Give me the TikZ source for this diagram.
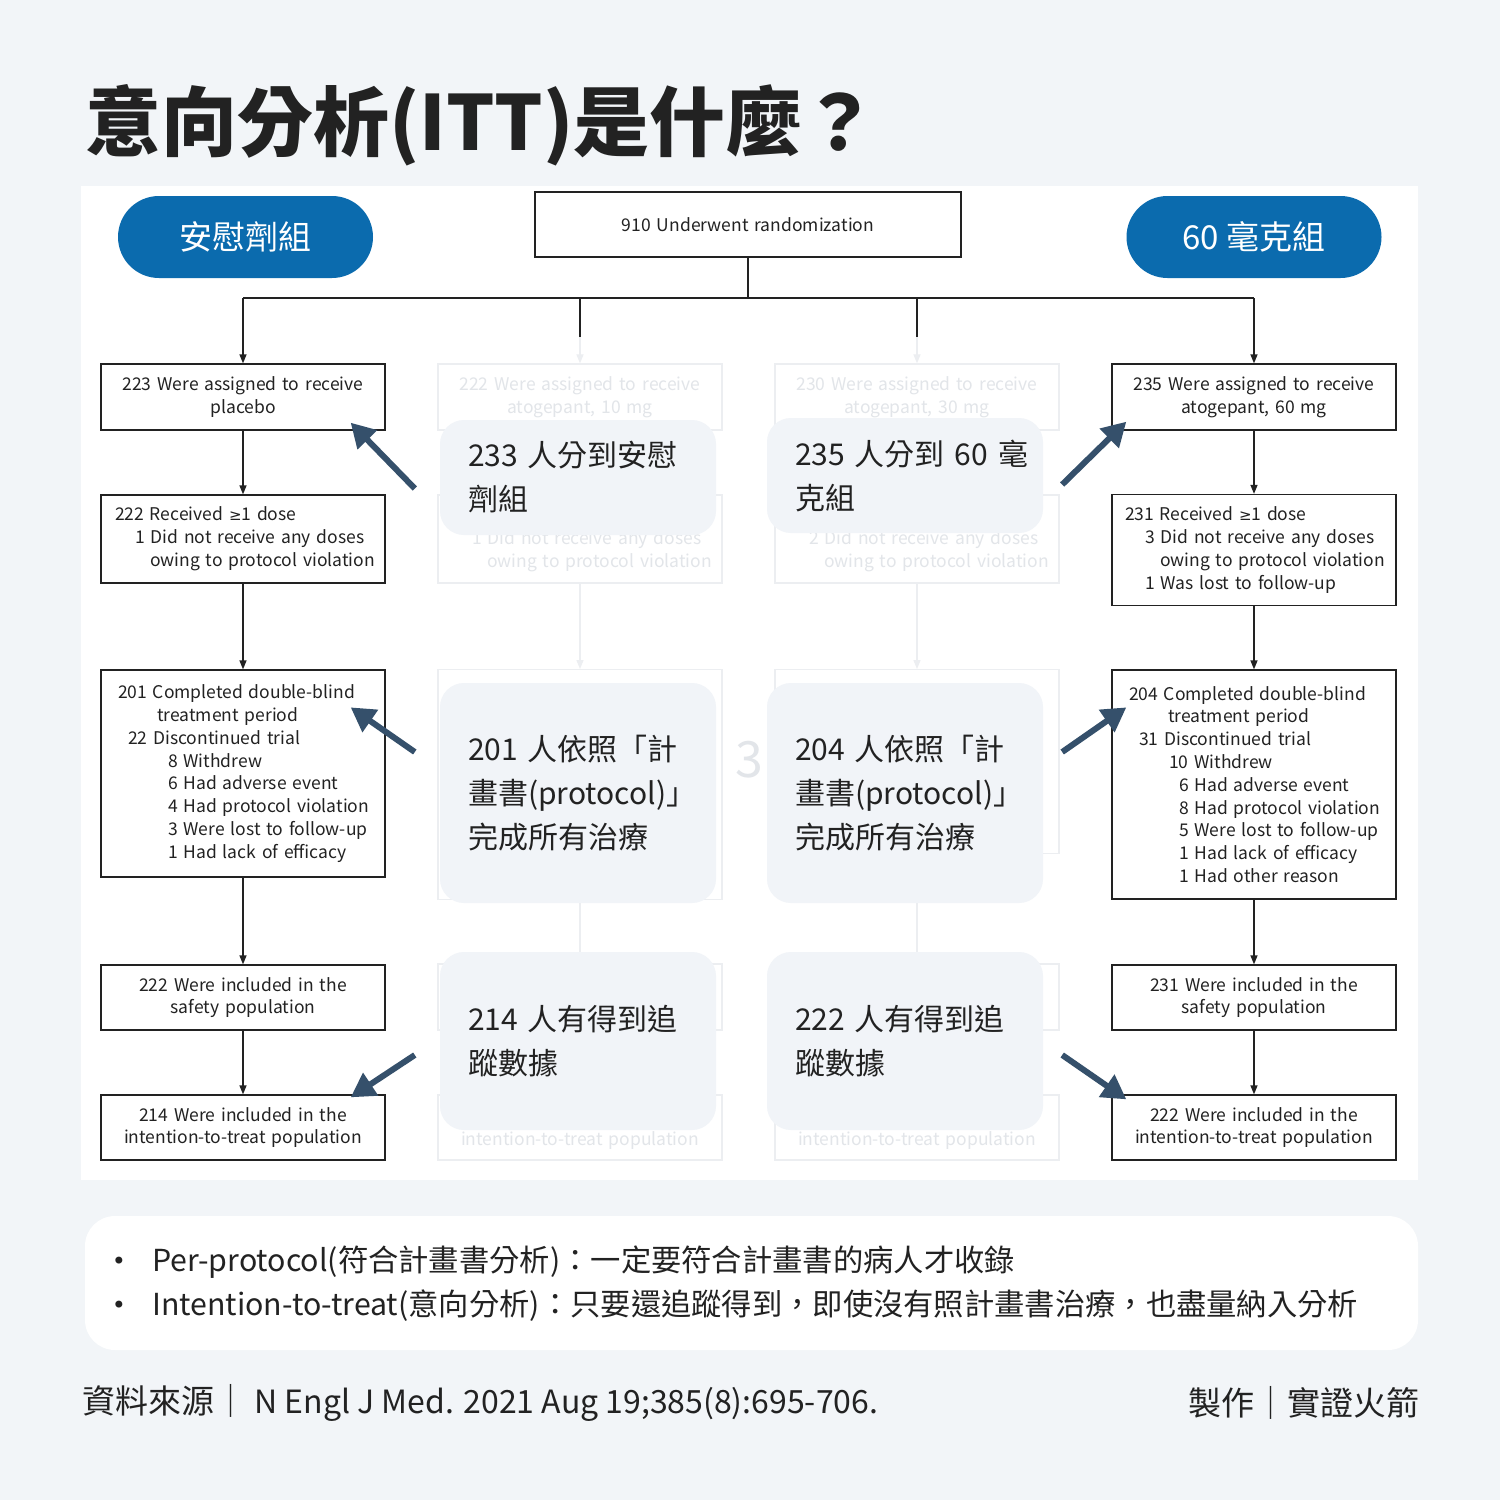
\documentclass[tikz,border=0pt]{standalone}
\usepackage{fontspec}
\setmainfont{Noto Sans CJK TC}
\newfontfamily\symfont{DejaVu Sans}
\usetikzlibrary{arrows.meta,positioning}

\definecolor{pagebg}{HTML}{F2F5F8}
\definecolor{pillblue}{HTML}{0B6BAE}
\definecolor{arrowcol}{HTML}{35506B}
\definecolor{callfill}{HTML}{F1F4F8}
\definecolor{ink}{HTML}{222222}
\definecolor{fadeline}{HTML}{ECEEF1}
\definecolor{fadeink}{HTML}{E2E5E9}

\newcommand\boxfont{\fontsize{17.5}{22.8}\selectfont}
\newcommand\callfont{\fontsize{30}{44}\selectfont}
\newcommand\atleast{{\symfont\fontsize{15}{15}\selectfont ≥}}

\tikzset{
  flowbox/.style={draw=ink, line width=1.3pt, fill=white, text=ink,
    inner xsep=2pt, inner ysep=0pt, text width=280pt, font=\boxfont},
  fadebox/.style={flowbox, draw=fadeline, text=fadeink},
  flow/.style={draw=ink, line width=1.3pt},
  flowarrow/.style={flow, -{Triangle[length=9pt,width=7pt]}},
  fadearrow/.style={flowarrow, draw=fadeline},
  pill/.style={fill=pillblue, text=white, rounded corners=41pt,
    minimum width=255pt, minimum height=82pt, font=\fontsize{33}{33}\selectfont},
  callbox/.style={fill=callfill, rounded corners=24pt, minimum width=276pt,
    inner xsep=28pt, text width=220pt, align=left, text=ink, font=\callfont},
  bigarrow/.style={draw=arrowcol, line width=6pt, -{Triangle[length=24pt,width=26pt]}},
  notetext/.style={inner sep=0pt, text=ink, font=\fontsize{30.3}{30.3}\selectfont}
}

\begin{document}
\begin{tikzpicture}[x=1pt,y=-1pt]
\useasboundingbox (0,0) rectangle (1500,1500);
\fill[pagebg] (0,0) rectangle (1500,1500);
\fill[white] (81,186) rectangle (1418,1180);

% title and group labels
\node[anchor=base west, inner sep=0pt, text=ink, font=\fontsize{76}{80}\selectfont\bfseries] (title) at (85,150) {意向分析(ITT)是什麼？};
\node[pill] (pillP) at (245.5,237) {安慰劑組};
\node[pill] (pillH) at (1254,237) {60 毫克組};

\node[flowbox, align=center, minimum height=65pt, text width=422pt] (rand) at (748,224.5) {910 Underwent randomization};

% faded middle columns
\foreach \cx/\cn/\dose/\num/\miss/\hb in {580/m/10/222/1/230, 917/n/30/230/2/184}{
  \node[fadebox, align=center, minimum height=66pt] (\cn1) at (\cx,397) {\num\ Were assigned to receive\\atogepant, \dose\ mg};
  \node[fadebox, align=left, minimum height=88pt] (\cn2) at (\cx,539) {\strut\\\hspace*{32pt}\miss\ Did not receive any doses\\\hspace*{47pt}owing to protocol violation};
  \node[fadebox, minimum height=\hb pt, anchor=north] (\cn3) at (\cx,669) {};
  \node[fadebox, minimum height=66pt] (\cn4) at (\cx,997) {};
  \node[fadebox, align=center, minimum height=65pt] (\cn5) at (\cx,1127.5) {\strut\\[2pt]intention-to-treat population};
  \draw[fadearrow] (\cn1) -- (\cn2);
  \draw[fadearrow] (\cn2) -- (\cn3);
  \draw[fadearrow] (\cn3) -- (\cn4);
  \draw[fadearrow] (\cn4) -- (\cn5);
}
\node[inner sep=0pt, text=fadeink, font=\fontsize{50}{50}\selectfont] (ghost) at (749,760) {3};

% placebo column
\node[flowbox, align=left, minimum height=66pt, align=center] (p1) at (243,397) {223 Were assigned to receive\\placebo};
\node[flowbox, align=left, minimum height=88pt] (p2) at (243,539) {\hspace*{12pt}222 Received \atleast1 dose\\\hspace*{32pt}1 Did not receive any doses\\\hspace*{47pt}owing to protocol violation};
\node[flowbox, align=left, minimum height=207pt] (p3) at (243,773.5) {\hspace*{15pt}201 Completed double-blind\\\hspace*{54pt}treatment period\\\hspace*{25pt}22 Discontinued trial\\\hspace*{65pt}8 Withdrew\\\hspace*{65pt}6 Had adverse event\\\hspace*{65pt}4 Had protocol violation\\\hspace*{65pt}3 Were lost to follow-up\\\hspace*{65pt}1 Had lack of efficacy};
\node[flowbox, align=center, minimum height=65pt] (p4) at (243,997.5) {222 Were included in the\\safety population};
\node[flowbox, align=center, minimum height=65pt] (p5) at (243,1127.5) {214 Were included in the\\intention-to-treat population};

% 60 mg column
\node[flowbox, align=center, minimum height=66pt] (h1) at (1254,397) {235 Were assigned to receive\\atogepant, 60 mg};
\node[flowbox, align=left, minimum height=111pt] (h2) at (1254,550) {\hspace*{11pt}231 Received \atleast1 dose\\\hspace*{31pt}3 Did not receive any doses\\\hspace*{46pt}owing to protocol violation\\\hspace*{31pt}1 Was lost to follow-up};
\node[flowbox, align=left, minimum height=229pt] (h3) at (1254,784.5) {\hspace*{15pt}204 Completed double-blind\\\hspace*{54pt}treatment period\\\hspace*{25pt}31 Discontinued trial\\\hspace*{55pt}10 Withdrew\\\hspace*{65pt}6 Had adverse event\\\hspace*{65pt}8 Had protocol violation\\\hspace*{65pt}5 Were lost to follow-up\\\hspace*{65pt}1 Had lack of efficacy\\\hspace*{65pt}1 Had other reason};
\node[flowbox, align=center, minimum height=65pt] (h4) at (1254,997.5) {231 Were included in the\\safety population};
\node[flowbox, align=center, minimum height=65pt] (h5) at (1254,1127.5) {222 Were included in the\\intention-to-treat population};

% randomization tree
\coordinate (split) at (748,298);
\draw[flow] (rand.south) -- (split);
\draw[flow] (p1.north |- split) -- (h1.north |- split);
\draw[flowarrow] (p1.north |- split) -- (p1.north);
\draw[flowarrow] (h1.north |- split) -- (h1.north);
\foreach \cn in {m,n}{
  \draw[flow] (\cn1.north |- split) -- ([yshift=26pt]\cn1.north);
  \draw[fadearrow] ([yshift=26pt]\cn1.north) -- (\cn1.north);
}
\foreach \a/\b in {1/2, 2/3, 3/4, 4/5}{
  \draw[flowarrow] (p\a) -- (p\b);
  \draw[flowarrow] (h\a) -- (h\b);
}

% callouts
\node[callbox, minimum height=115pt] (c1) at (578,477.5) {233~人分到安慰\\劑組};
\node[callbox, minimum height=115pt] (c2) at (905,475.5) {235~人分到~60~毫\\克組};
\node[callbox, minimum height=220pt] (c3) at (578,793) {201~人依照「計\\畫書(protocol)」\\完成所有治療};
\node[callbox, minimum height=220pt] (c4) at (905,793) {204~人依照「計\\畫書(protocol)」\\完成所有治療};
\node[callbox, minimum height=178pt] (c5) at (578,1041) {214~人有得到追\\蹤數據};
\node[callbox, minimum height=178pt] (c6) at (905,1041) {222~人有得到追\\蹤數據};

\draw[bigarrow] ([xshift=-25pt,yshift=-11pt]c1.west) -- ([xshift=-35pt,yshift=8pt]p1.south east);
\draw[bigarrow] ([xshift=-25pt,yshift=41pt]c3.west) -- ([xshift=-35pt,yshift=-38pt]p3.north east);
\draw[bigarrow] ([xshift=-25pt,yshift=-14pt]c5.west) -- ([xshift=-35pt,yshift=-3pt]p5.north east);
\draw[bigarrow] ([xshift=19pt,yshift=-9pt]c2.east) -- ([xshift=15pt,yshift=9pt]h1.south west);
\draw[bigarrow] ([xshift=19pt,yshift=41pt]c4.east) -- ([xshift=15pt,yshift=-38pt]h3.north west);
\draw[bigarrow] ([xshift=19pt,yshift=-14pt]c6.east) -- ([xshift=15pt,yshift=-5pt]h5.north west);

% notes
\node[fill=white, rounded corners=30pt, minimum width=1333pt, minimum height=134pt, inner sep=0pt] (notes) at (751.5,1283) {};
\node[notetext, font=\symfont\fontsize{24}{24}\selectfont] (dot1) at (119,1263) {•};
\node[notetext, font=\symfont\fontsize{24}{24}\selectfont] (dot2) at (119,1307) {•};
\node[notetext, anchor=west] (pp) at (152,1262) {Per-protocol(符合計畫書分析)：一定要符合計畫書的病人才收錄};
\node[notetext, anchor=west] (itt) at (152,1306) {Intention-to-treat(意向分析)：只要還追蹤得到，即使沒有照計畫書治療，也盡量納入分析};

% footer
\node[notetext, anchor=west, font=\fontsize{32}{32}\selectfont] (src) at (82,1403) {{\fontsize{33}{33}\selectfont 資料來源｜} N Engl J Med. 2021 Aug 19;385(8):695-706.};
\node[notetext, anchor=east, font=\fontsize{33}{33}\selectfont] (credit) at (1420,1403) {製作｜實證火箭};
\end{tikzpicture}
\end{document}
